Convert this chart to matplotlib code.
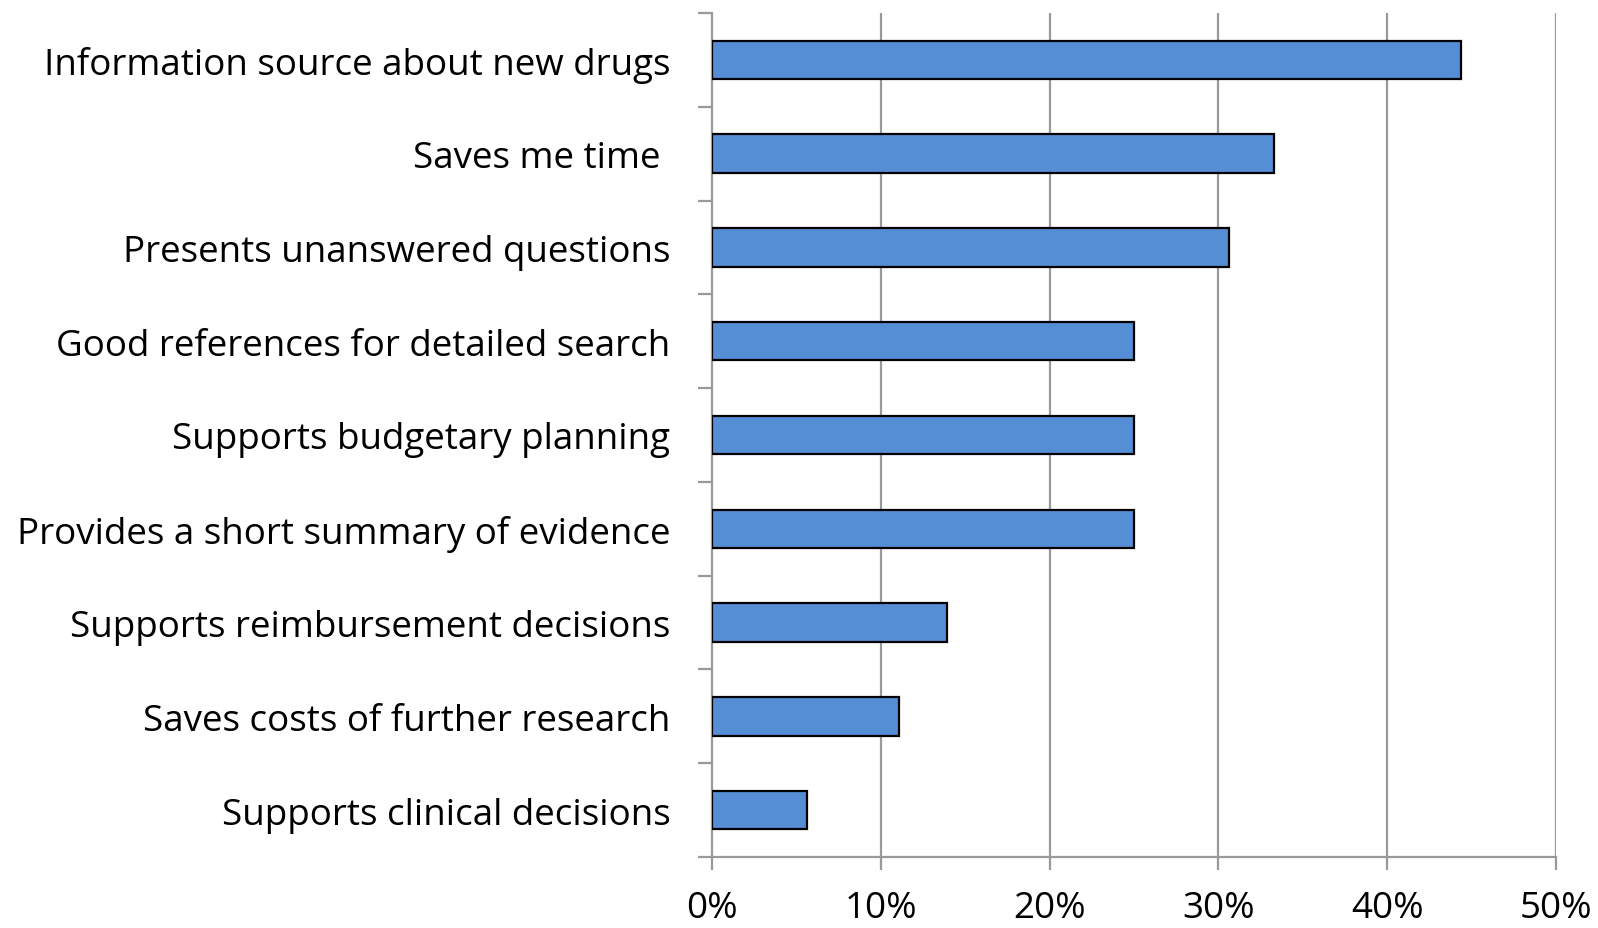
import matplotlib
matplotlib.use("Agg")
import matplotlib.pyplot as plt
import numpy as np
from matplotlib.ticker import FixedLocator

plt.rcParams["font.family"] = ["Open Sans", "DejaVu Sans"]

# benefits listed from top to bottom, share of respondents (%)
labels = ["Information source about new drugs",
          "Saves me time ",
          "Presents unanswered questions",
          "Good references for detailed search",
          "Supports budgetary planning",
          "Provides a short summary of evidence",
          "Supports reimbursement decisions",
          "Saves costs of further research",
          "Supports clinical decisions"]
shares = [44.4, 33.3, 30.6, 25.0, 25.0, 25.0, 13.9, 11.1, 5.6]
xticks = [0, 10, 20, 30, 40, 50]

fig = plt.figure(figsize=(15.98, 9.29), dpi=100)
ax = fig.add_axes([0.4456, 0.0764, 0.9737 - 0.4456, 0.985 - 0.0764])

n = len(labels)
ypos = np.arange(n)[::-1]
ax.barh(ypos, shares, height=0.41, color="#558ED5", edgecolor="black",
        linewidth=1.6, zorder=3)

gray = "#999999"
ax.set_xlim(0, 50)
ax.set_ylim(-0.5, n - 0.5)
ax.set_xticks(xticks)
ax.set_xticklabels([f"{t}%" for t in xticks])
for t in xticks[1:]:
    ax.axvline(t, color=gray, lw=1.6, zorder=1)

ax.set_yticks(ypos)
ax.set_yticklabels(labels)
ax.yaxis.set_minor_locator(FixedLocator(np.arange(-0.5, n, 1.0)))

for s in ["top", "right"]:
    ax.spines[s].set_visible(False)
for s in ["left", "bottom"]:
    ax.spines[s].set_color(gray)
    ax.spines[s].set_linewidth(1.6)

ax.tick_params(axis="y", which="major", length=0, pad=30, labelsize=26.5)
ax.tick_params(axis="y", which="minor", length=10, width=1.6, color=gray)
ax.tick_params(axis="x", which="major", length=9, width=1.6, color=gray,
               pad=15, labelsize=26.5)

fig.savefig("out.png", dpi=100)
